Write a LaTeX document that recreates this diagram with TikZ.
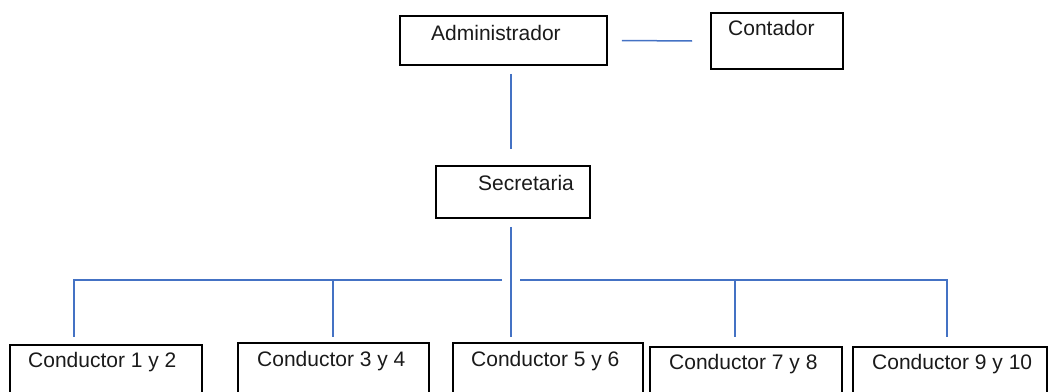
\documentclass[tikz,border=0pt]{standalone}
\usepackage{fontspec}
\setmainfont{Liberation Sans}
\usetikzlibrary{calc}
\definecolor{connblue}{HTML}{4472C4}
\definecolor{txtgray}{HTML}{1A1A1A}
\tikzset{
  box/.style={draw=black, line width=1.8pt, rectangle, inner sep=0pt},
  conn/.style={draw=connblue, line width=1.5pt},
  lbl/.style={anchor=base west, inner sep=0pt, text=txtgray, font=\fontsize{21}{25}\selectfont}
}
\begin{document}
\begin{tikzpicture}[x=1pt,y=-1pt]
\useasboundingbox (0,0) rectangle (1049,391);
\clip (0,0) rectangle (1049,391);
% boxes
\node[box, minimum width=207pt, minimum height=49pt] (admin) at (503.5,40.5) {};
\node[box, minimum width=132pt, minimum height=56pt] (cont) at (777,41) {};
\node[box, minimum width=154pt, minimum height=52pt] (sec) at (513,192) {};
\node[box, minimum width=192pt, minimum height=70pt] (c1) at (106,380) {};
\node[box, minimum width=191pt, minimum height=70pt] (c2) at (333.5,378) {};
\node[box, minimum width=190pt, minimum height=70pt] (c3) at (548,378) {};
\node[box, minimum width=192pt, minimum height=70pt] (c4) at (746,382) {};
\node[box, minimum width=194pt, minimum height=70pt] (c5) at (950,382) {};
% texts
\node[lbl] (tadmin) at (431,40) {Administrador};
\node[lbl] (tcont) at (728,35) {Contador};
\node[lbl] (tsec) at (478,190) {Secretaria};
\node[lbl] (tc1) at (28,367) {Conductor 1 y 2};
\node[lbl] (tc2) at (257,366) {Conductor 3 y 4};
\node[lbl] (tc3) at (471,366) {Conductor 5 y 6};
\node[lbl] (tc4) at (669,369) {Conductor 7 y 8};
\node[lbl] (tc5) at (872,369) {Conductor 9 y 10};
% connector coordinates
\coordinate (hub) at (511,280);
\coordinate (d1) at (74,280);
\coordinate (d2) at (333,280);
\coordinate (d4) at (735,280);
\coordinate (d5) at (947,280);
% connectors
\draw[conn] ($(admin.east)+(14,0)$) -- ($(cont.west)+(-18,0)$);
\draw[conn] ($(admin.south)+(7.5,8)$) -- ($(sec.north)+(-2,-16)$);
\draw[conn] ($(sec.south)+(-2,8)$) -- ($(hub)+(0,57)$);
\draw[conn] ($(hub)+(-9,0)$) -- (d1) -- ++(0,57);
\draw[conn] ($(hub)+(9,0)$) -- (d5) -- ++(0,57);
\draw[conn] (d2) -- ++(0,57);
\draw[conn] (d4) -- ++(0,57);
\end{tikzpicture}
\end{document}
